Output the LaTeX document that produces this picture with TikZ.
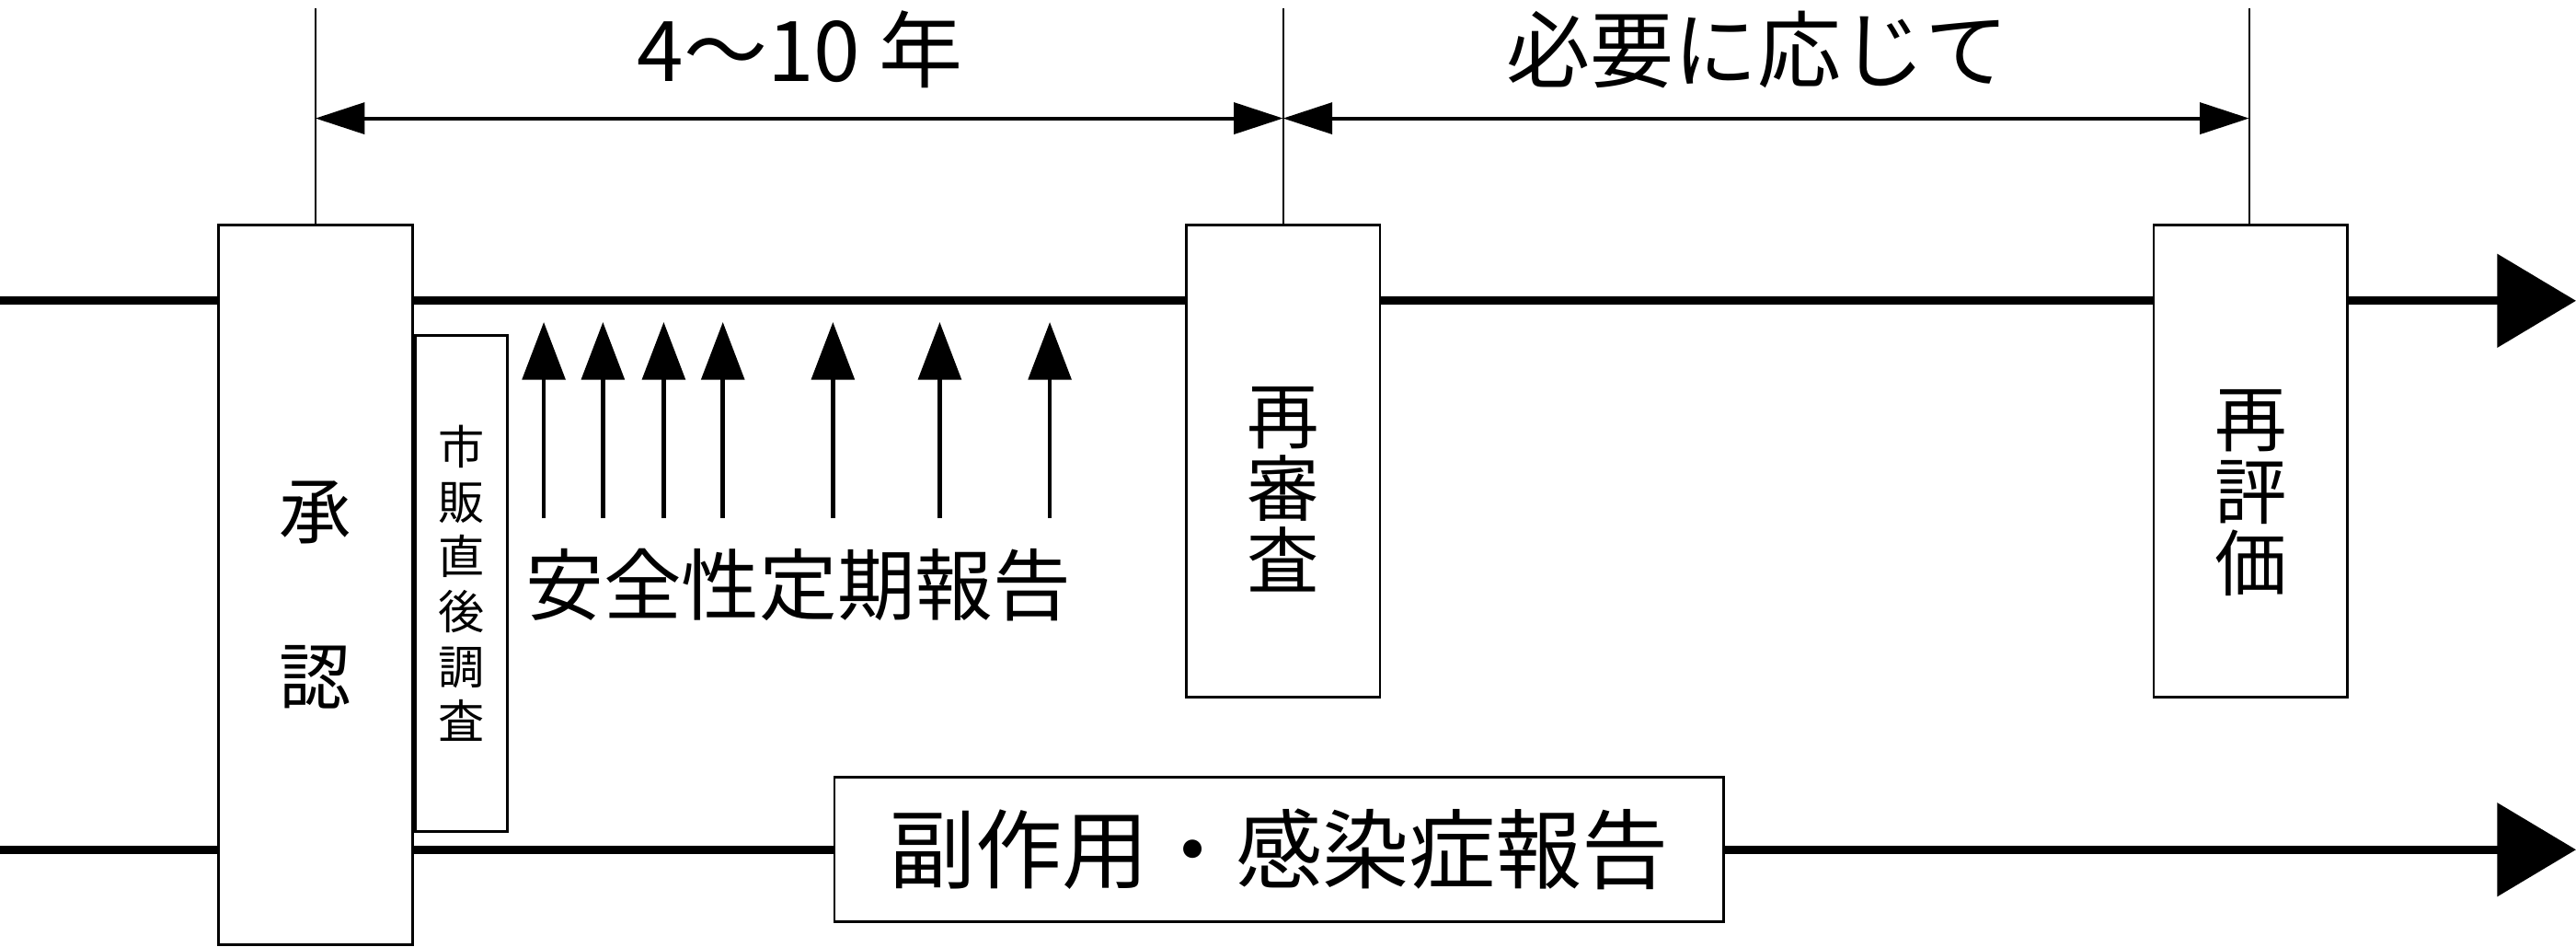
\documentclass[tikz,border=0pt]{standalone}
\usepackage{fontspec}
\setmainfont{Noto Sans CJK JP}
\usetikzlibrary{arrows.meta}
\begin{document}
\begin{tikzpicture}[x=0.02cm,y=-0.02cm,
  main/.style={line width=0.1cm,-{Triangle[length=0.96cm,width=1.12cm]}},
  up/.style={line width=0.05cm,-{Triangle[length=0.7cm,width=0.52cm]}},
  dim/.style={line width=0.045cm,{Triangle[length=0.6cm,width=0.38cm]}-{Triangle[length=0.6cm,width=0.38cm]}},
  thin/.style={line width=0.025cm},
  box/.style={draw,fill=white,line width=0.03cm,inner sep=0pt},
  big/.style={font=\fontsize{27}{28}\selectfont},
  vbig/.style={font=\fontsize{25}{25}\selectfont,align=center},
  vsmall/.style={font=\fontsize{16}{19}\selectfont,align=center}]
\useasboundingbox (0,0) rectangle (1568,576);
% main lines
\coordinate (l1s) at (0,183); \coordinate (l1e) at (1568,183);
\coordinate (l2s) at (0,517); \coordinate (l2e) at (1568,517);
\draw[main] (l1s) -- (l1e);
\draw[main] (l2s) -- (l2e);
% vertical guides
\coordinate (g1) at (192,5); \coordinate (g1b) at (192,137);
\coordinate (g2) at (781,5); \coordinate (g2b) at (781,137);
\coordinate (g3) at (1369,5); \coordinate (g3b) at (1369,137);
\draw[thin] (g1) -- (g1b);
\draw[thin] (g2) -- (g2b);
\draw[thin] (g3) -- (g3b);
\coordinate (d1) at (192,72); \coordinate (d2) at (781,72); \coordinate (d3) at (1369,72);
\draw[dim] (d1) -- (d2);
\draw[dim] (d2) -- (d3);
\node[font=\fontsize{29}{30}\selectfont] (t1) at (487,30) {4〜10 年};
\node[font=\fontsize{29}{30}\selectfont] (t2) at (1070,30) {必要に応じて};
% boxes
\node[box,minimum width=118*0.02cm,minimum height=438*0.02cm] (approve) at (192,356) {};
\node[vbig] (approvet) at (192,362) {承\\[1.3em]認};
\node[box,minimum width=56*0.02cm,minimum height=302*0.02cm,vsmall] (pms) at (281,355) {市\\販\\直\\後\\調\\査};
\node[box,minimum width=118*0.02cm,minimum height=287*0.02cm] (reex) at (781,280.5) {};
\node[vbig] (reext) at (781,298) {再\\審\\査};
\node[box,minimum width=118*0.02cm,minimum height=287*0.02cm] (reev) at (1370,280.5) {};
\node[vbig] (reevt) at (1370,300) {再\\評\\価};
\node[box,minimum width=541*0.02cm,minimum height=88*0.02cm,font=\fontsize{30}{30}\selectfont] (adr) at (778.5,517) {副作用・感染症報告};
% safety report arrows
\foreach \x [count=\i] in {331,367,404,440,507,572,639}{
  \coordinate (a\i) at (\x,315); \coordinate (b\i) at (\x,196);
  \draw[up] (a\i) -- (b\i);
}
\node[big] (psur) at (486,356) {安全性定期報告};
\end{tikzpicture}
\end{document}
